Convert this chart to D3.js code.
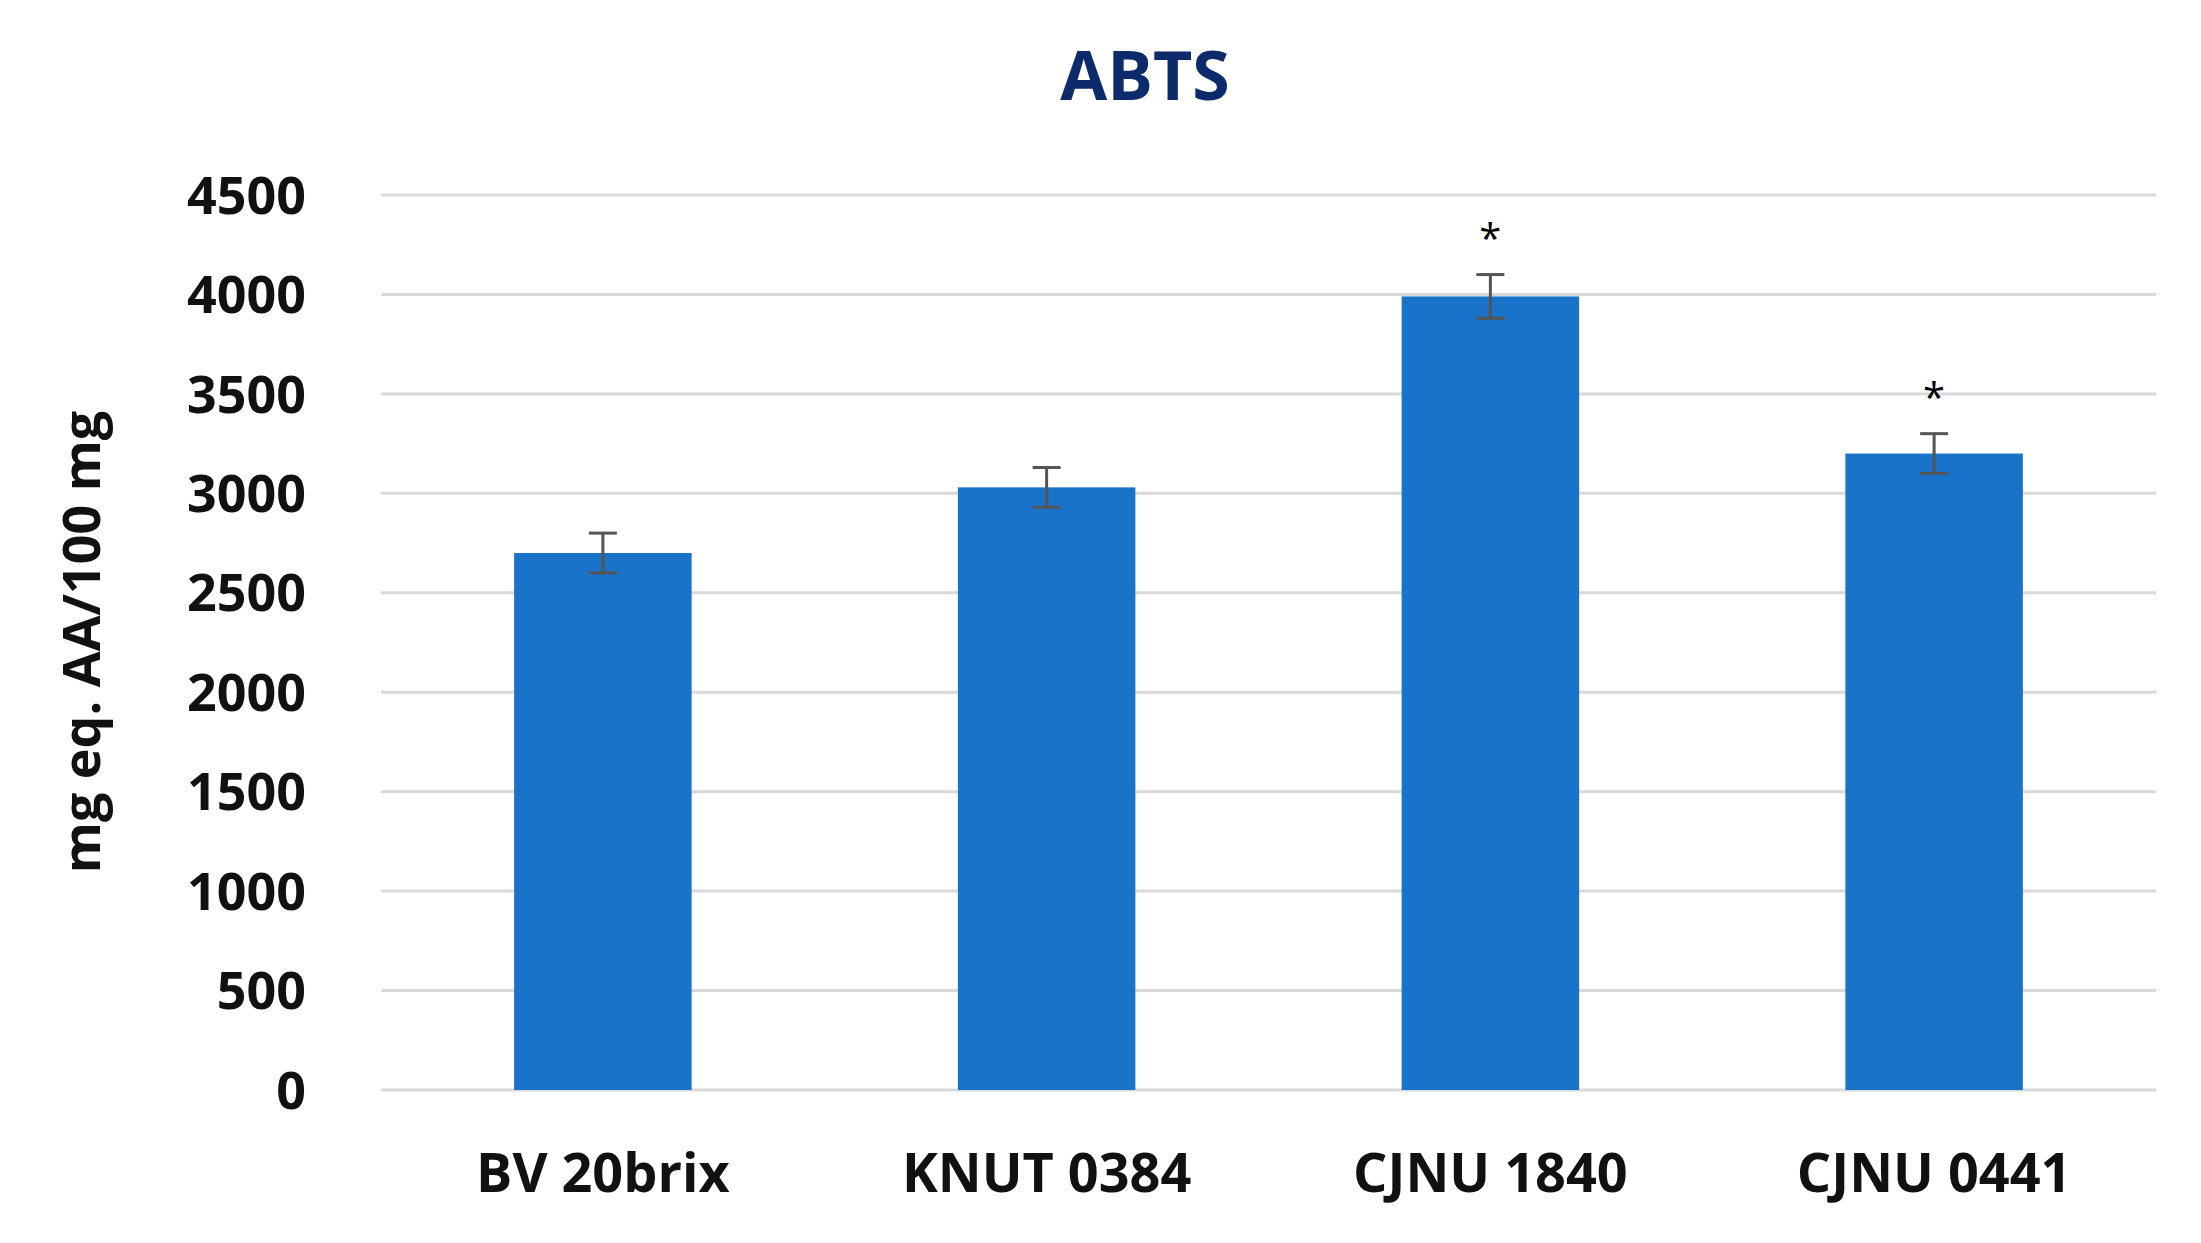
<!DOCTYPE html>
<html>
<head>
<meta charset="utf-8">
<script src="https://d3js.org/d3.v7.min.js"></script>
<style>
  body { margin: 0; background: #fff; }
  text { font-family: "Open Sans", "Noto Sans", sans-serif; font-weight: 700; }
</style>
</head>
<body>
<script>
// data
var categories = ["BV 20brix", "KNUT 0384", "CJNU 1840", "CJNU 0441"];
var values = [2700, 3030, 3990, 3200];
var errors = [100, 100, 110, 100];
var marks = ["", "", "*", "*"];
var yTicks = [0, 500, 1000, 1500, 2000, 2500, 3000, 3500, 4000, 4500];

var W = 2201, H = 1243;
var svg = d3.select("body").append("svg").attr("width", W).attr("height", H);

var x = d3.scaleBand().domain(categories).range([381, 2156]).paddingInner(0.6).paddingOuter(0.3);
var y = d3.scaleLinear().domain([0, 4500]).range([1090, 195]);

// gridlines
svg.selectAll(".grid").data(yTicks).enter().append("line")
  .attr("x1", 381).attr("x2", 2156)
  .attr("y1", function(d){ return y(d); }).attr("y2", function(d){ return y(d); })
  .style("stroke", "#d9d9d9").style("stroke-width", 3);

// y tick labels
svg.selectAll(".ytick").data(yTicks).enter().append("text")
  .attr("x", 306).attr("y", function(d){ return y(d); })
  .attr("dy", "0.36em").attr("text-anchor", "end")
  .style("font-size", "52px").style("fill", "#111")
  .text(function(d){ return d; });

// bars
svg.selectAll(".bar").data(values).enter().append("rect")
  .attr("x", function(d,i){ return x(categories[i]); })
  .attr("width", x.bandwidth())
  .attr("y", function(d){ return y(d); })
  .attr("height", function(d){ return y(0) - y(d); })
  .style("fill", "#1873c9");

// error bars
var eb = svg.selectAll(".err").data(values).enter().append("g")
  .attr("transform", function(d,i){ return "translate(" + (x(categories[i]) + x.bandwidth()/2) + ",0)"; });
eb.append("line").attr("x1", 0).attr("x2", 0)
  .attr("y1", function(d,i){ return y(d + errors[i]); })
  .attr("y2", function(d,i){ return y(d - errors[i]); })
  .style("stroke", "#555").style("stroke-width", 3);
eb.append("line").attr("x1", -14).attr("x2", 14)
  .attr("y1", function(d,i){ return y(d + errors[i]); })
  .attr("y2", function(d,i){ return y(d + errors[i]); })
  .style("stroke", "#555").style("stroke-width", 3);
eb.append("line").attr("x1", -14).attr("x2", 14)
  .attr("y1", function(d,i){ return y(d - errors[i]); })
  .attr("y2", function(d,i){ return y(d - errors[i]); })
  .style("stroke", "#555").style("stroke-width", 3);
eb.append("text").attr("x", 0)
  .attr("y", function(d,i){ return y(d + errors[i]) - 22; })
  .attr("text-anchor", "middle").style("font-size", "40px").style("font-weight", 400)
  .text(function(d,i){ return marks[i]; });

// x labels
svg.selectAll(".xlab").data(categories).enter().append("text")
  .attr("x", function(d){ return x(d) + x.bandwidth()/2; })
  .attr("y", 1192).attr("text-anchor", "middle")
  .style("font-size", "54px").style("fill", "#111")
  .text(function(d){ return d; });

// axis title
svg.append("text")
  .attr("transform", "translate(100,642) rotate(-90)")
  .attr("text-anchor", "middle").style("font-size", "52px").style("fill", "#111")
  .text("mg eq. AA/100 mg");

// title
svg.append("text").attr("x", 1145).attr("y", 100).attr("text-anchor", "middle")
  .style("font-size", "68px").style("fill", "#0d2a6b").text("ABTS");
</script>
</body>
</html>
